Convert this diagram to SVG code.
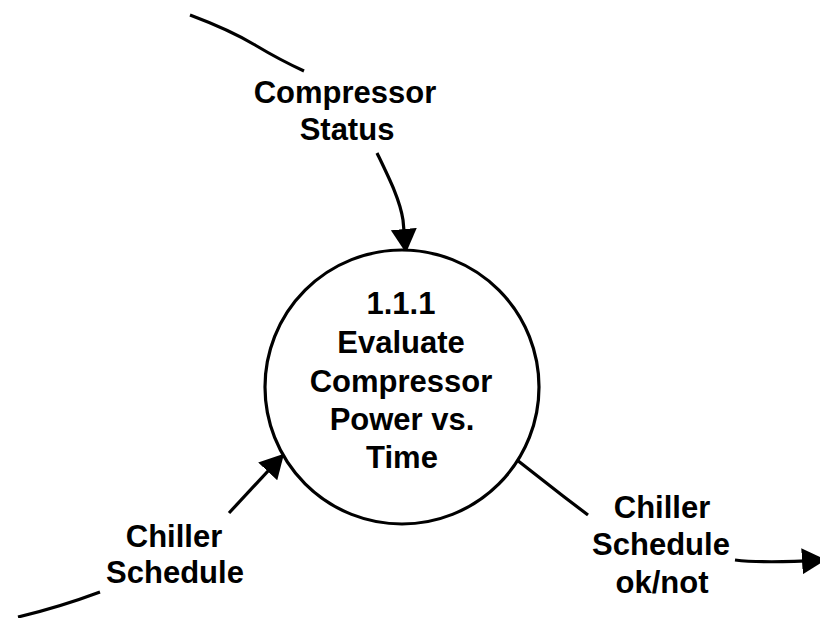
<svg xmlns="http://www.w3.org/2000/svg" width="820" height="618" viewBox="0 0 820 618">
<style>
.t{font-family:"Liberation Sans",Arial,sans-serif;font-weight:bold;font-size:31px;fill:#000;text-anchor:middle}
.c{fill:none;stroke:#000;stroke-width:3.2;stroke-linecap:butt;stroke-linejoin:round}
</style>
<defs>
<marker id="ah" markerUnits="userSpaceOnUse" markerWidth="26" markerHeight="28" refX="21" refY="13" orient="auto" viewBox="0 0 26 28">
<path d="M0,0 L24,13 L0,26 z" fill="#000"/>
</marker>
</defs>
<rect width="820" height="618" fill="#fff"/>
<g id="connectors">
<path class="c" d="M190,15 Q230,30 255,45 T304,71"/>
<path class="c" d="M377,153 C390,180 400,200 403,220 L405.7,250" marker-end="url(#ah)"/>
<path class="c" d="M18,617 Q60,607 100,592"/>
<path class="c" d="M229,513 L282,456" marker-end="url(#ah)"/>
<path class="c" d="M517,460 L563,496 L588,515"/>
<path class="c" d="M735,560 C760,563 790,562 823,560" marker-end="url(#ah)"/>
</g>
<g id="process">
<circle cx="402" cy="387" r="137" fill="#fff" stroke="#000" stroke-width="3.2"/>
<text class="t" x="401" y="314">1.1.1</text>
<text class="t" x="401" y="353">Evaluate</text>
<text class="t" x="401" y="392">Compressor</text>
<text class="t" x="402" y="430">Power vs.</text>
<text class="t" x="402" y="468">Time</text>
</g>
<g id="label-compressor-status">
<text class="t" x="345" y="103">Compressor</text>
<text class="t" x="347" y="140">Status</text>
</g>
<g id="label-chiller-schedule">
<text class="t" x="174" y="547">Chiller</text>
<text class="t" x="175" y="583">Schedule</text>
</g>
<g id="label-chiller-schedule-ok">
<text class="t" x="662" y="518">Chiller</text>
<text class="t" x="661" y="555">Schedule</text>
<text class="t" x="662" y="593">ok/not</text>
</g>
</svg>
